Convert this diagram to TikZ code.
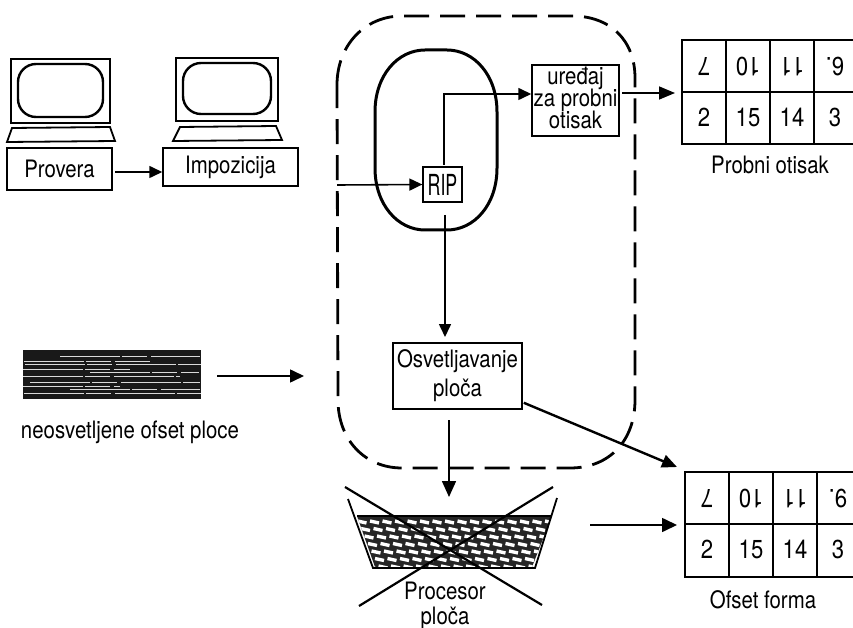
\documentclass[tikz,border=0pt]{standalone}
\usepackage{fontspec}
\setmainfont[FakeStretch=0.85]{TeX Gyre Heros}
\usetikzlibrary{arrows.meta}
\tikzset{
  lbl/.style={inner sep=0pt,align=center,font=\fontsize{24}{25}\selectfont},
  boxn/.style={draw,line width=1.5pt,inner sep=0pt,align=center,font=\fontsize{24}{20}\selectfont},
  num/.style={inner sep=0pt,font=\fontsize{26}{26}\selectfont},
  numup/.style={num,rotate=180},
  arr/.style={line width=1.6pt,-{Triangle[length=13pt,width=12pt]}},
  grid/.style={line width=1.4pt},
  mon/.style={line width=1.8pt},
  thick3/.style={line width=2.4pt}
}
\begin{document}
\begin{tikzpicture}[x=1pt,y=-1pt]
\useasboundingbox (0,0) rectangle (853,628);
% monitors
\draw[mon] (11,59) rectangle (110,123);
\draw[thick3,rounded corners=18pt] (18,64) rectangle (103,117);
\draw[mon] (12,128) -- (110,127) -- (115,141) -- (7,142) -- cycle;
\draw[mon] (176,58) rectangle (278,121);
\draw[thick3,rounded corners=18pt] (183,63) rectangle (271,114);
\draw[mon] (180,127) -- (276,126) -- (282,140) -- (173,141) -- cycle;
\node[boxn,minimum width=105pt,minimum height=42pt] (prov) at (59.5,169) {Provera};
\node[boxn,minimum width=135pt,minimum height=38pt] (imp) at (230.5,167) {\raisebox{1pt}{Impozicija}};
\draw[arr] (115,172) -- (imp.west |- 0,172);
% dashed region
\draw[line width=2.8pt,dash pattern=on 25pt off 11pt]
  (337,85) .. controls (337,45) and (365,16) .. (402,16) -- (572,16)
  .. controls (610,16) and (635,40) .. (635,78) -- (635,400)
  .. controls (635,440) and (610,468) .. (570,468) -- (402,468)
  .. controls (365,468) and (338,440) .. (338,400) -- cycle;
% oval
\draw[line width=3pt] (375,112) .. controls (375,75) and (398,50) .. (425,50) -- (447,50)
  .. controls (474,50) and (497,75) .. (497,112) -- (497,168)
  .. controls (497,205) and (474,230) .. (447,230) -- (425,230)
  .. controls (398,230) and (375,205) .. (375,168) -- cycle;
% RIP
\node[draw,line width=1.3pt,minimum width=39pt,minimum height=35pt,inner sep=0pt,fill=white] (rip) at (442.5,184.5)
  {\fontsize{29}{29}\selectfont\scalebox{.72}[1]{RIP}};
\node[boxn,minimum width=87pt,minimum height=71pt,fill=white] (ured) at (575.5,100.5)
  {\raisebox{2pt}{\begin{tabular}{@{}c@{}}uređaj\\[-1pt]za probni\\[-2pt]otisak\end{tabular}}};
\node[boxn,minimum width=129pt,minimum height=66pt,fill=white] (osv) at (457.5,376)
  {\raisebox{-6pt}{\begin{tabular}{@{}c@{}}Osvetljavanje\\[6pt]ploča\end{tabular}}};
\coordinate (ripin) at (337,185);
\draw[arr] (ripin) -- (rip.west);
\coordinate (ripup) at (444,165);
\coordinate (corner) at (444,94);
\draw[arr] (ripup) -- (corner) -- (ured.west |- corner);
\coordinate (ripdown) at (445,215);
\draw[arr] (ripdown) -- (445,337);
% proof table
\draw[arr,-{Triangle[length=16pt,width=13pt]}] (622,93) -- (675,93);
\draw[grid] (853,40) -- (682,40) -- (682,144) -- (853,144) (682,92) -- (853,92)
  (726,40) -- (726,144) (770,40) -- (770,144) (814,40) -- (814,144);
\foreach \x/\t/\n in {704/7/a,748/10/b,792/11/c,835/6./d}
  \node[numup] (p\n) at (\x,67) {\t};
\foreach \x/\t/\n in {704/2/e,748/15/f,792/14/g,835/3/h}
  \node[num] (p\n) at (\x,117) {\t};
\node[lbl] (ptxt) at (770,165) {Probni otisak};
% plate
\fill[black!90] (23,350) rectangle (201,399);
\foreach \y/\a/\b in {356/60/200,361/24/150,364/25/201,369/23/130,372/90/199,376/23/180,382/30/200,386/23/120,389/70/200,393/24/201}
  \draw[white!85!black,line width=.5pt,dash pattern=on 60pt off 2pt on 25pt off 4pt] (\a,\y) -- (\b,\y);
\node[lbl] (ptext) at (130,432) {neosvetljene ofset ploce};
\coordinate (pl) at (217,376);
\coordinate (pr) at (304,376);
\draw[arr,-{Triangle[length=14pt,width=13pt]}] (pl) -- (pr);
% tray
\begin{scope}
\clip (357,516) -- (552,516) -- (532,567) -- (375,567) -- cycle;
\fill[black!85] (350,510) rectangle (560,570);
\foreach \r in {0,...,6}
  \foreach \c in {0,...,17}
    \draw[white,line width=3.4pt] ({345+\c*12.5+\r*3.5},{521+\r*7.5}) -- ++(9,2);
\end{scope}
\draw[line width=1.8pt] (348,499) -- (373,568) -- (535,568) -- (557,498);
\draw[line width=1.5pt] (357,516) -- (552,516);
\draw[line width=2.2pt] (345,487) -- (542,605);
\draw[line width=2.2pt] (553,487) -- (359,606);
\coordinate (odown) at (449,420);
\coordinate (tray) at (449,497);
\draw[arr,-{Triangle[length=16pt,width=14pt]}] (odown) -- (tray);
\node[lbl] (proc) at (445,605.5) {Procesor\\ploča};
% offset table
\coordinate (tr) at (590,525);
\coordinate (tl) at (677,525);
\draw[arr,-{Triangle[length=15pt,width=14pt]}] (tr) -- (tl);
\coordinate (oend) at (677,467);
\draw[line width=2.4pt,-{Triangle[length=15pt,width=13pt]}] (osv.south east) ++(1,-7) -- (oend);
\draw[grid] (853,472) -- (685,472) -- (685,577) -- (853,577) (685,524) -- (853,524)
  (729,472) -- (729,577) (773,472) -- (773,577) (817,472) -- (817,577);
\foreach \x/\t/\n in {707/7/a,751/10/b,795/11/c,838/9./d}
  \node[numup] (o\n) at (\x,499) {\t};
\foreach \x/\t/\n in {707/2/e,751/15/f,795/14/g,838/3/h}
  \node[num] (o\n) at (\x,549) {\t};
\node[lbl] (otxt) at (763,600) {Ofset forma};
\end{tikzpicture}
\end{document}
